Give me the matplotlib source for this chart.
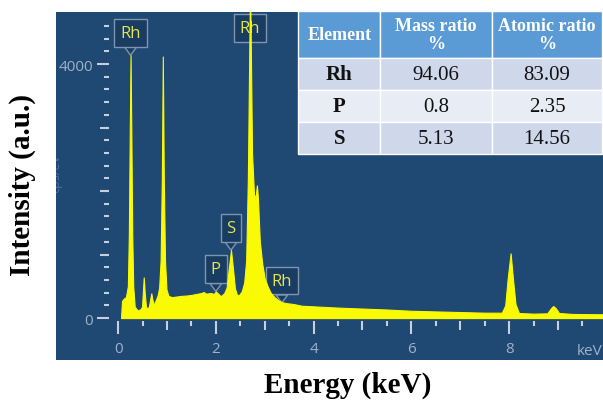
import matplotlib
matplotlib.use("Agg")
import matplotlib.pyplot as plt

# ---- spectrum (energy in keV, counts) ----
energy_kev = [0.06, 0.08, 0.12, 0.16, 0.20, 0.22, 0.24, 0.255, 0.27, 0.29, 0.31, 0.34,
              0.40, 0.46, 0.49, 0.51, 0.525, 0.545, 0.57, 0.60, 0.63, 0.665, 0.68, 0.70,
              0.73, 0.78, 0.81, 0.84, 0.87, 0.895, 0.915, 0.935, 0.96, 0.99, 1.03, 1.10,
              1.20, 1.30, 1.40, 1.50, 1.60, 1.70, 1.75, 1.80, 1.90, 1.96, 2.00, 2.04,
              2.10, 2.17, 2.22, 2.26, 2.31, 2.35, 2.39, 2.43, 2.47, 2.53, 2.58, 2.62,
              2.655, 2.685, 2.70, 2.715, 2.74, 2.78, 2.81, 2.84, 2.86, 2.90, 2.95, 3.00,
              3.06, 3.12, 3.20, 3.28, 3.35, 3.45, 3.60, 3.75, 4.00, 4.50, 5.00, 5.50,
              6.00, 6.50, 7.00, 7.50, 7.85, 7.92, 7.97, 8.03, 8.08, 8.13, 8.20, 8.50,
              8.78, 8.85, 8.90, 8.95, 9.02, 9.30, 9.92]
counts = [0, 270, 310, 330, 500, 1300, 3000, 4140, 3000, 1300, 500, 180,
          120, 140, 180, 450, 640, 400, 180, 150, 180, 330, 390, 300,
          205, 300, 360, 480, 900, 2200, 4120, 2200, 900, 450, 350, 330,
          340, 350, 355, 365, 380, 395, 410, 385, 395, 380, 420, 390,
          345, 390, 480, 750, 1070, 780, 470, 370, 360, 420, 560, 900,
          2200, 4300, 5200, 4300, 2600, 1950, 1880, 2090, 1900, 1200, 850, 620,
          500, 400, 330, 280, 250, 235, 220, 195, 185, 165, 150, 135,
          115, 105, 95, 85, 85, 200, 620, 1020, 600, 220, 80, 70,
          75, 150, 190, 160, 80, 65, 60]

# peak labels
peak_names = ["Rh", "S", "P", "Rh"]
peak_energy = [0.255, 2.31, 2.00, 3.35]
peak_counts = [4140, 1070, 420, 240]
top_label_energy = 2.70
top_label_counts = 4570

# composition table
table_header = ["Element", "Mass ratio\n%", "Atomic ratio\n%"]
elements = ["Rh", "P", "S"]
mass_ratio = ["94.06", "0.8", "5.13"]
atomic_ratio = ["83.09", "2.35", "14.56"]

panel_color = "#1f4872"
tick_color = "#c5d0dc"
label_color = "#9fb2c8"
spec_color = "#fafa05"
box_face = "#193c62"
box_edge = "#7f95ae"

fig = plt.figure(figsize=(6.03, 4.06), dpi=100)
ax = fig.add_axes([56 / 603, 45 / 406, 547 / 603, 348 / 406])
ax.set_facecolor(panel_color)
ax.set_xlim(-1.27, 9.92)
ax.set_ylim(-660, 4820)

# spectrum
ax.fill_between(energy_kev, counts, 0, color=spec_color, lw=0.8, zorder=4)

# axes decoration like the EDS software
for s in ax.spines.values():
    s.set_visible(False)
ax.spines["bottom"].set_position(("data", -50))
ax.spines["left"].set_position(("data", -0.18))

ax.set_xticks([0, 2, 4, 6, 8])
ax.set_xticks([0.5, 1.5, 2.5, 3.5, 4.5, 5.5, 6.5, 7.5, 8.5, 9.5], minor=True)
ax.set_yticks([0, 4000])
ax.set_yticks(range(200, 4800, 200), minor=True)
ax.tick_params(axis="x", which="major", direction="out", length=9.4, width=1.5,
               color=tick_color, labelcolor=label_color, labelsize=11, pad=5)
ax.tick_params(axis="x", which="minor", direction="out", length=3.6, width=1.5,
               color=tick_color)
ax.tick_params(axis="y", which="major", direction="out", length=8.6, width=1.5,
               color=tick_color, labelcolor=label_color, labelsize=11, pad=3)
ax.tick_params(axis="y", which="minor", direction="out", length=3.6, width=1.5,
               color=tick_color)
for lab in ax.get_xticklabels() + ax.get_yticklabels():
    lab.set_family("Open Sans")

# medium ticks on odd keV and every 1000 counts
y0, y1 = ax.get_ylim()
x0, x1 = ax.get_xlim()
secx = ax.secondary_xaxis((-50 - y0) / (y1 - y0))
secx.set_xticks([1, 3, 5, 7, 9])
secx.tick_params(direction="out", length=6.5, width=1.5, color=tick_color, labelbottom=False)
secx.spines["bottom"].set_visible(False)
secy = ax.secondary_yaxis((-0.18 - x0) / (x1 - x0))
secy.set_yticks([1000, 2000, 3000])
secy.tick_params(direction="out", length=6.5, width=1.5, color=tick_color, labelleft=False)
secy.spines["left"].set_visible(False)

ax.text(9.64, -515, "keV", color=label_color, fontsize=11, family="Open Sans",
        ha="center", va="center")
ax.text(-1.27, 2300, "cps/eV", color="#6f8cae", fontsize=9, family="Open Sans",
        rotation=90, ha="center", va="center", alpha=0.6, clip_on=True)

# element labels
box = dict(boxstyle="square,pad=0.35", fc=box_face, ec=box_edge, lw=1)
for name, e, c in zip(peak_names, peak_energy, peak_counts):
    ax.annotate(name, xy=(e, c), xytext=(0, 16), textcoords="offset points",
                ha="center", va="center", color="#e4e64a", fontsize=12,
                family="Open Sans", bbox=box, zorder=3,
                arrowprops=dict(arrowstyle="wedge,tail_width=0.7", fc=box_face,
                                ec=box_edge, lw=1, shrinkA=0, shrinkB=0))
ax.text(top_label_energy, top_label_counts, "Rh", ha="center", va="center",
        color="#e4e64a", fontsize=12, family="Open Sans", bbox=box, zorder=3)

# table
cells = [[el, m, a] for el, m, a in zip(elements, mass_ratio, atomic_ratio)]
tab = ax.table(cellText=cells, colLabels=table_header, cellLoc="center",
               bbox=[0.443, 0.592, 0.555, 0.41], zorder=6)
tab.auto_set_font_size(False)
col_w = [82, 112, 110]
row_colors = ["#cfd8ea", "#e8ecf4", "#cfd8ea"]
for (r, c), cell in tab.get_celld().items():
    cell.set_width(col_w[c])
    cell.set_edgecolor("white")
    cell.set_linewidth(1)
    txt = cell.get_text()
    txt.set_family("Liberation Serif")
    if r == 0:
        cell.set_height(47)
        cell.set_facecolor("#5b9bd5")
        txt.set_color("white")
        txt.set_weight("bold")
        txt.set_fontsize(13)
        txt.set_linespacing(1.1)
    else:
        cell.set_height(32)
        cell.set_facecolor(row_colors[r - 1])
        txt.set_color("#111111")
        txt.set_fontsize(15)
        if c == 0:
            txt.set_weight("bold")

fig.text(22 / 603, 1 - 185 / 406, "Intensity (a.u.)", rotation=90, ha="center",
         va="center", fontsize=21, weight="bold", family="Liberation Serif")
fig.text(348 / 603, 1 - 385 / 406, "Energy (keV)", ha="center", va="center",
         fontsize=21, weight="bold", family="Liberation Serif")

fig.savefig("out.png", dpi=100)
